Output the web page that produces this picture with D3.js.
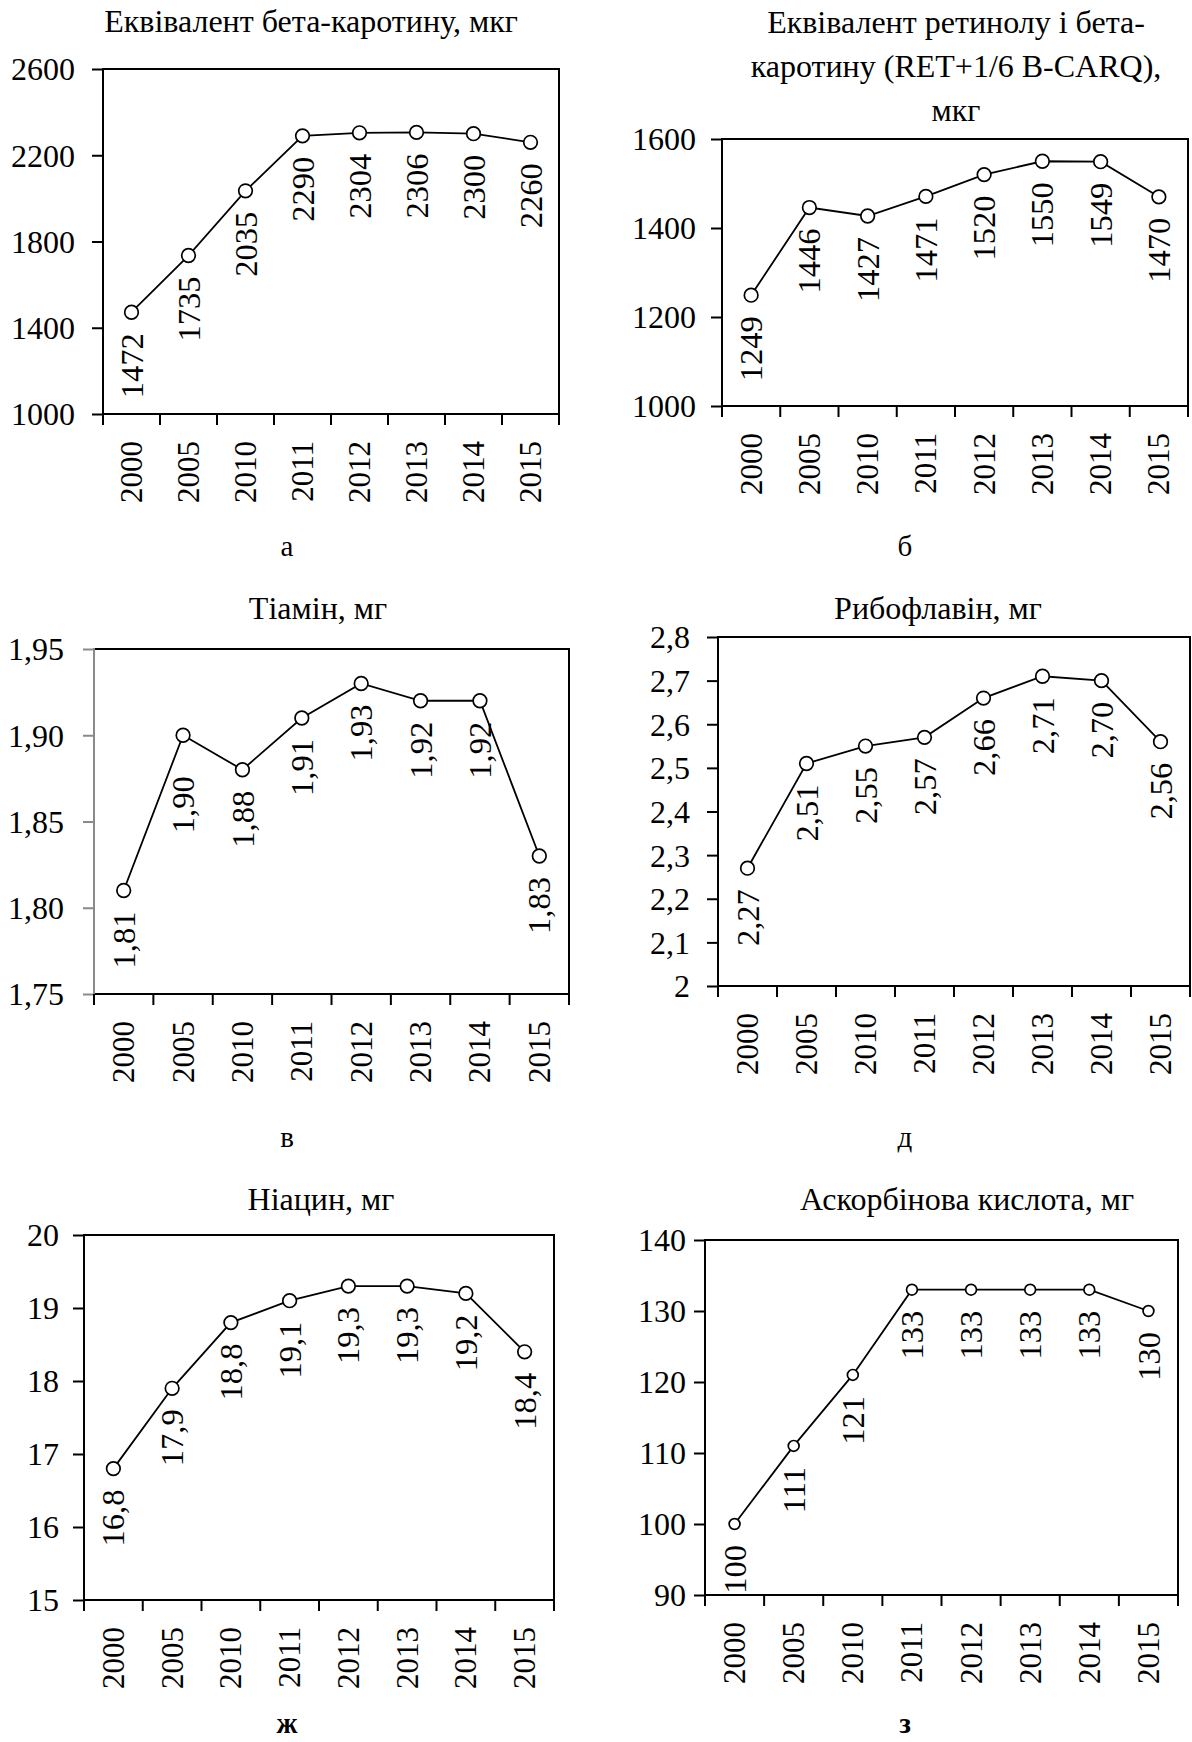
<!DOCTYPE html>
<html lang='uk'>

<head>
   <meta charset='UTF-8'>
   <title>Вітаміни 2000-2015</title>
   <script src='https://d3js.org/d3.v7.min.js'></script>
   <style>
      body {
         margin: 0;
         background: #fff;
      }

      svg text {
         font-family: 'Liberation Serif', 'Times New Roman', serif;
         fill: #000;
      }
   </style>
</head>

<body>
   <div id='svg-container'></div>
   <script>

      // data
      const years = ['2000', '2005', '2010', '2011', '2012', '2013', '2014', '2015'];

      const betaCarotene = [1472, 1735, 2035, 2290, 2304, 2306, 2300, 2260];
      const retinolEq = [1249, 1446, 1427, 1471, 1520, 1550, 1549, 1470];
      const thiamine = [1.81, 1.90, 1.88, 1.91, 1.93, 1.92, 1.92, 1.83];
      const riboflavin = [2.27, 2.51, 2.55, 2.57, 2.66, 2.71, 2.70, 2.56];
      const niacin = [16.8, 17.9, 18.8, 19.1, 19.3, 19.3, 19.2, 18.4];
      const ascorbic = [100, 111, 121, 133, 133, 133, 133, 130];

      const betaTicks = [1000, 1400, 1800, 2200, 2600];
      const retinolTicks = [1000, 1200, 1400, 1600];
      const thiamineTicks = [1.75, 1.80, 1.85, 1.90, 1.95];
      const riboflavinTicks = [2, 2.1, 2.2, 2.3, 2.4, 2.5, 2.6, 2.7, 2.8];
      const niacinTicks = [15, 16, 17, 18, 19, 20];
      const ascorbicTicks = [90, 100, 110, 120, 130, 140];

      const loc = d3.formatLocale({ decimal: ',', thousands: '', grouping: [3], currency: ['', ''] });

      const W = 1192, H = 1742;
      const svg = d3.select('#svg-container').append('svg').attr('width', W).attr('height', H);

      const charts = [
         {
            values: betaCarotene, ticks: betaTicks, domain: [1000, 2600],
            title: ['Еквівалент бета-каротину, мкг'], titleX: 311, titleY: 32,
            sub: 'а', subX: 287, subY: 556,
            box: { left: 103, right: 559, top: 69, bottom: 414 },
            tickFmt: 'd', labelFmt: 'd', r: 6.8, yGap: 17
         },
         {
            values: retinolEq, ticks: retinolTicks, domain: [1000, 1600],
            title: ['Еквівалент ретинолу і бета-', 'каротину (RET+1/6 B-CARQ),', 'мкг'], titleX: 956, titleY: 33, lineStep: 44,
            sub: 'б', subX: 905, subY: 556,
            box: { left: 722, right: 1188, top: 139, bottom: 406 },
            tickFmt: 'd', labelFmt: 'd', r: 6.8, yGap: 15
         },
         {
            values: thiamine, ticks: thiamineTicks, domain: [1.75, 1.95],
            title: ['Тіамін, мг'], titleX: 318, titleY: 619,
            sub: 'в', subX: 287, subY: 1147,
            box: { left: 94, right: 569, top: 649, bottom: 994 },
            tickFmt: '.2f', labelFmt: '.2f', r: 6.8, yGap: 19, greyAxis: true,
            labelShift: { 1: 20 } // the 2005 label sits lower than the rest
         },
         {
            values: riboflavin, ticks: riboflavinTicks, domain: [2, 2.8],
            title: ['Рибофлавін, мг'], titleX: 938, titleY: 619,
            sub: 'д', subX: 905, subY: 1147,
            box: { left: 718, right: 1190, top: 637, bottom: 986 },
            tickFmt: '.1~f', labelFmt: '.2f', r: 6.8, yGap: 17
         },
         {
            values: niacin, ticks: niacinTicks, domain: [15, 20],
            title: ['Ніацин, мг'], titleX: 321, titleY: 1210,
            sub: 'ж', subX: 287, subY: 1733, subBold: true,
            box: { left: 84, right: 554, top: 1235, bottom: 1600 },
            tickFmt: 'd', labelFmt: '.1f', r: 6.8, yGap: 14
         },
         {
            values: ascorbic, ticks: ascorbicTicks, domain: [90, 140],
            title: ['Аскорбінова кислота, мг'], titleX: 967, titleY: 1210,
            sub: 'з', subX: 905, subY: 1733, subBold: true,
            box: { left: 705, right: 1178, top: 1240, bottom: 1595 },
            tickFmt: 'd', labelFmt: 'd', r: 5.4, yGap: 8
         }
      ];

      const TICK = 11;

      charts.forEach(c => {
         const b = c.box;
         const g = svg.append('g');

         const x = d3.scaleBand().domain(years).range([b.left, b.right]).padding(0);
         const y = d3.scaleLinear().domain(c.domain).range([b.bottom, b.top]);
         const cx = d => x(d) + x.bandwidth() / 2;

         // title
         c.title.forEach((t, i) => {
            g.append('text')
               .attr('x', c.titleX)
               .attr('y', c.titleY + i * (c.lineStep || 0))
               .attr('text-anchor', 'middle')
               .attr('font-size', 32)
               .text(t);
         });

         // left axis
         const axisColour = c.greyAxis ? '#8a8a8a' : '#000';
         const yAxis = g.append('g')
            .attr('transform', `translate(${b.left},0)`)
            .call(d3.axisLeft(y).tickValues(c.ticks).tickSize(TICK).tickPadding(c.yGap).tickFormat(loc.format(c.tickFmt)));
         yAxis.select('.domain').remove();
         yAxis.selectAll('line').attr('stroke', axisColour).attr('stroke-width', 2);
         yAxis.selectAll('text')
            .attr('font-size', 32)
            .attr('font-family', "'Liberation Serif', serif")
            .attr('dy', '0.34em');

         // bottom axis: labels at band centres, ticks at band edges
         const xAxis = g.append('g')
            .attr('transform', `translate(0,${b.bottom})`)
            .call(d3.axisBottom(x).tickSize(0));
         xAxis.select('.domain').remove();
         xAxis.selectAll('text')
            .attr('font-size', 31)
            .attr('font-family', "'Liberation Serif', serif")
            .attr('transform', 'rotate(-90)')
            .attr('x', -27)
            .attr('y', 0)
            .attr('dy', '0.34em')
            .attr('text-anchor', 'end');

         const edges = years.map(d => x(d)).concat([x(years[years.length - 1]) + x.bandwidth()]);
         g.selectAll('line.xtick').data(edges).enter().append('line')
            .attr('class', 'xtick')
            .attr('x1', d => d).attr('x2', d => d)
            .attr('y1', b.bottom).attr('y2', b.bottom + TICK)
            .attr('stroke', '#000').attr('stroke-width', 2);

         // plot frame
         g.append('path')
            .attr('fill', 'none')
            .attr('stroke', '#000')
            .attr('stroke-width', 2)
            .attr('d', `M${b.left},${b.bottom}H${b.right}V${b.top}H${b.left}`);
         g.append('line')
            .attr('x1', b.left).attr('x2', b.left)
            .attr('y1', b.top - 1).attr('y2', b.bottom + (c.greyAxis ? 0 : TICK))
            .attr('stroke', axisColour).attr('stroke-width', 2);
         if (c.greyAxis) {
            g.append('line')
               .attr('x1', b.left).attr('x2', b.left)
               .attr('y1', b.bottom).attr('y2', b.bottom + TICK)
               .attr('stroke', '#000').attr('stroke-width', 2);
         }

         // series
         const line = d3.line().x((d, i) => cx(years[i])).y(d => y(d));
         g.append('path')
            .attr('fill', 'none')
            .attr('stroke', '#000')
            .attr('stroke-width', 1.8)
            .attr('d', line(c.values));

         g.selectAll('circle').data(c.values).enter().append('circle')
            .attr('cx', (d, i) => cx(years[i]))
            .attr('cy', d => y(d))
            .attr('r', c.r)
            .attr('fill', '#fff')
            .attr('stroke', '#000')
            .attr('stroke-width', 1.7);

         // value labels, rotated, hanging under each point
         const lf = loc.format(c.labelFmt);
         g.selectAll('text.val').data(c.values).enter().append('text')
            .attr('class', 'val')
            .attr('font-size', 32.5)
            .attr('text-anchor', 'end')
            .attr('dy', '0.34em')
            .attr('transform', (d, i) => {
               const shift = (c.labelShift && c.labelShift[i]) || 0;
               return `translate(${cx(years[i])},${y(d) + 21 + shift}) rotate(-90)`;
            })
            .text(d => lf(d));

         // panel letter
         g.append('text')
            .attr('x', c.subX)
            .attr('y', c.subY)
            .attr('text-anchor', 'middle')
            .attr('font-size', 29)
            .attr('font-weight', c.subBold ? 'bold' : 'normal')
            .text(c.sub);
      });

   </script>
</body>

</html>
